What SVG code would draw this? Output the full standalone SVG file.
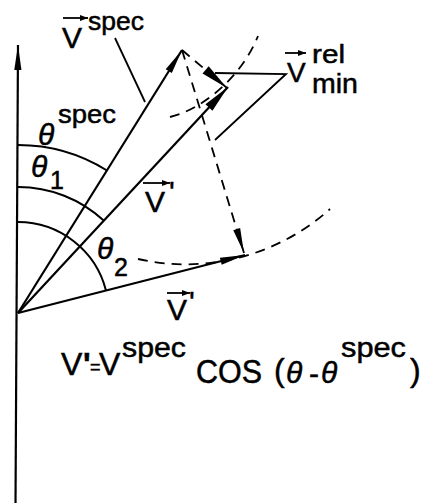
<svg xmlns="http://www.w3.org/2000/svg" width="427" height="503" viewBox="0 0 427 503">
<style>
.ln{stroke:#000;stroke-width:2.2;fill:none}
.thin{stroke:#000;stroke-width:1.8;fill:none}
.dash{stroke:#000;stroke-width:1.8;fill:none;stroke-dasharray:10 7}
.arc{stroke:#000;stroke-width:2;fill:none}
text{font-family:"Liberation Sans",Arial,sans-serif;fill:#000;stroke:#000;stroke-width:0.5}
.big{font-size:30px}
.sup{font-size:26px}
.th{font-size:30px;font-style:italic}
.sub{font-size:25px}
</style>
<defs>
<marker id="ah" markerUnits="userSpaceOnUse" markerWidth="30" markerHeight="12" viewBox="-27 -6 28 12" refX="0" refY="0" orient="auto"><path d="M0,0 L-25,-3.6 L-25,3.6 z" fill="#000"/></marker>
<marker id="ahw" markerUnits="userSpaceOnUse" markerWidth="32" markerHeight="14" viewBox="-29 -7 30 14" refX="0" refY="0" orient="auto"><path d="M0,0 L-28,-4.8 L-28,4.8 z" fill="#000"/></marker>
<marker id="sa" markerUnits="userSpaceOnUse" markerWidth="10" markerHeight="8" viewBox="-9 -4 10 8" refX="0" refY="0" orient="auto"><path d="M0,0 L-8,-3 L-8,3 z" fill="#000"/></marker>
</defs>
<g id="connectors">
<line id="axis" class="ln" x1="15.5" y1="503" x2="18" y2="45" marker-end="url(#ah)"/>
<line id="vspec" class="ln" x1="18" y1="313" x2="182" y2="50" marker-end="url(#ah)"/>
<line id="vprime1" class="ln" x1="18" y1="313" x2="228" y2="87" marker-end="url(#ahw)"/>
<line id="vprime2" class="ln" x1="18" y1="313" x2="245" y2="255" marker-end="url(#ah)"/>
<line id="vrel" class="dash" x1="182" y1="50" x2="227" y2="88" marker-end="url(#ahw)"/>
<line id="vdrop" class="dash" x1="182" y1="50" x2="244" y2="253" marker-end="url(#ah)"/>
<path id="arc-upper" class="dash" d="M170,117 C200,110 240,80 258,36"/>
<path id="arc-lower" class="dash" d="M138,259 A216,216 0 0 0 330,209"/>
<line id="lead-vspec" class="thin" x1="115" y1="38" x2="145" y2="102"/>
<polyline id="lead-vrel" class="thin" points="215,73 286,74 215,140"/>
<path id="arc-thspec" class="arc" d="M18,145 A168,168 0 0 1 107,170.5"/>
<path id="arc-th1" class="arc" d="M18,187 A126,126 0 0 1 104,220.8"/>
<path id="arc-th2" class="arc" d="M18,222 A91,91 0 0 1 106,290.5"/>
</g>
<g id="label-vspec">
<line class="thin" x1="63" y1="18" x2="88" y2="18" marker-end="url(#sa)"/>
<text class="big" x="62" y="48">V</text>
<text class="sup" x="88" y="30" textLength="56" lengthAdjust="spacingAndGlyphs">spec</text>
</g>
<g id="label-thspec">
<text class="th" x="38" y="145">θ</text>
<text class="sup" x="58" y="123" textLength="58" lengthAdjust="spacingAndGlyphs">spec</text>
</g>
<g id="label-th1">
<text class="th" x="31" y="177">θ</text>
<text class="sub" x="50" y="189">1</text>
</g>
<g id="label-th2">
<text class="th" x="97" y="259">θ</text>
<text class="sub" x="114" y="276">2</text>
</g>
<g id="label-vprime1">
<line class="thin" x1="143" y1="183" x2="170" y2="183" marker-end="url(#sa)"/>
<text class="big" x="145" y="212">V</text>
<text class="big" x="169" y="202">'</text>
</g>
<g id="label-vprime2">
<line class="thin" x1="167" y1="293" x2="190" y2="293" marker-end="url(#sa)"/>
<text class="big" x="167" y="320">V</text>
<text class="big" x="189" y="312">'</text>
</g>
<g id="label-vrelmin">
<line class="thin" x1="285" y1="53" x2="306" y2="53" marker-end="url(#sa)"/>
<text style="font-size:28px" x="287" y="82">V</text>
<text class="sub" x="312" y="63" textLength="33" lengthAdjust="spacingAndGlyphs">rel</text>
<text style="font-size:27px" x="312" y="93" textLength="46" lengthAdjust="spacingAndGlyphs">min</text>
</g>
<g id="formula">
<text style="font-size:32px" x="61" y="375">V</text>
<text style="font-size:32px;font-weight:bold" x="83" y="375">'</text>
<text style="font-size:18px" x="90" y="373">=</text>
<text style="font-size:32px" x="99" y="375">V</text>
<text style="font-size:28px" x="122" y="357" textLength="64" lengthAdjust="spacingAndGlyphs">spec</text>
<text style="font-size:33px" x="196" y="383" textLength="66" lengthAdjust="spacingAndGlyphs">COS</text>
<text style="font-size:32px" x="274" y="381">(</text>
<text class="th" x="286" y="383">θ</text>
<text style="font-size:30px" x="309" y="384">-</text>
<text class="th" x="321" y="383">θ</text>
<text style="font-size:28px" x="341" y="357" textLength="65" lengthAdjust="spacingAndGlyphs">spec</text>
<text style="font-size:32px" x="410" y="381">)</text>
</g>
</svg>
